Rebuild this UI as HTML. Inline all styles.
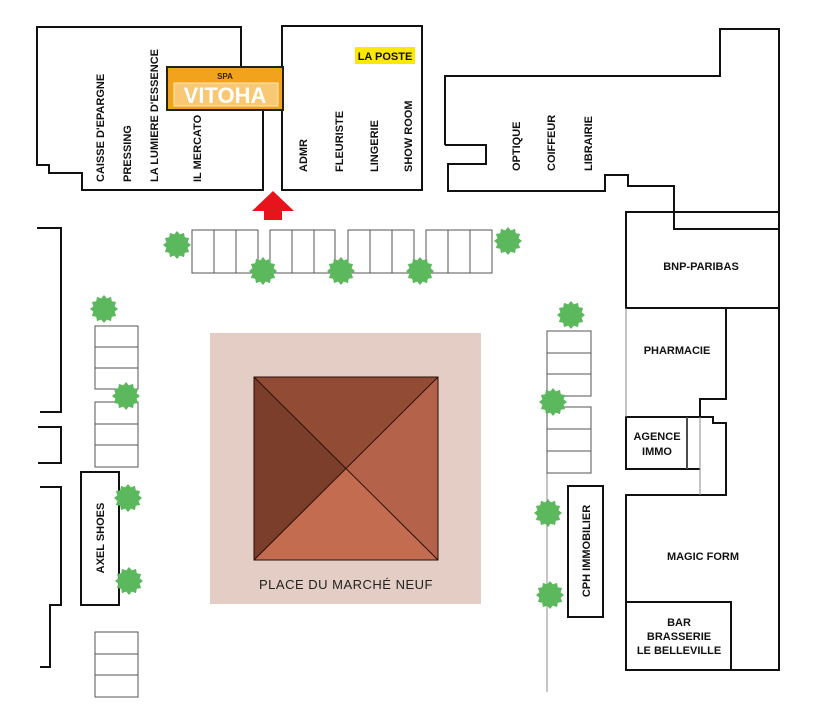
<!DOCTYPE html>
<html><head><meta charset="utf-8"><style>
html,body{margin:0;padding:0;background:#fff;}
svg{display:block;}
.t{font-family:"Liberation Sans Narrow","Liberation Sans",sans-serif;font-weight:bold;font-size:11px;fill:#111;}
</style></head><body>
<svg width="816" height="704" viewBox="0 0 816 704" xmlns="http://www.w3.org/2000/svg">
<defs>
<polygon id="tr" fill="#5cb85c" points="14,0 10.6,2.8 12.1,7 7.8,7.8 7,12.1 2.8,10.6 0,14 -2.8,10.6 -7,12.1 -7.8,7.8 -12.1,7 -10.6,2.8 -14,0 -10.6,-2.8 -12.1,-7 -7.8,-7.8 -7,-12.1 -2.8,-10.6 0,-14 2.8,-10.6 7,-12.1 7.8,-7.8 12.1,-7 10.6,-2.8"/>
</defs>
<g fill="none" stroke="#111" stroke-width="2">
<!-- top-left building -->
<polyline points="241,68 241,27 37,27 37,165 49,165 49,173 82,173 82,190 263,190 263,110"/>
<rect x="282" y="26" width="140" height="164"/>
<!-- top right building -->
<polyline points="445,145 445,76 720,76 720,29 779,29 779,229 674,229 674,186 628,186 628,175 605,175 605,191 448,191 448,164 486,164 486,145 445,145"/>
<rect x="626" y="212" width="153" height="96"/>
<polyline points="726,308 726,399 700,399 700,417"/>
<rect x="626" y="417" width="61" height="52"/>
<polyline points="687,417 700,417 713,417 713,423 726,423 726,495 626,495 626,670 779,670 779,308"/>
<polyline points="687,469 700,469"/>
<rect x="626" y="602" width="105" height="68"/>
<rect x="568" y="486" width="35" height="131"/>
<!-- left brackets -->
<polyline points="37,228 61,228 61,412 40,412"/>
<polyline points="38,427 61,427 61,463 38,463"/>
<polyline points="40,487 61,487 61,605 50,605 50,667 40,667"/>
<rect x="81" y="472" width="38" height="133"/>
</g>
<g fill="none" stroke="#888" stroke-width="1">
<line x1="626" y1="308" x2="626" y2="417"/>
<line x1="700" y1="417" x2="700" y2="495"/>
<line x1="687" y1="417" x2="687" y2="469"/>
<line x1="547" y1="473" x2="547" y2="692"/>
</g>
<g fill="#fff" stroke="#555" stroke-width="1">
<!-- top parking -->
<rect x="192" y="230" width="22" height="43"/><rect x="214" y="230" width="22" height="43"/><rect x="236" y="230" width="22" height="43"/>
<rect x="270" y="230" width="22" height="43"/><rect x="292" y="230" width="22" height="43"/><rect x="314" y="230" width="21" height="43"/>
<rect x="348" y="230" width="22" height="43"/><rect x="370" y="230" width="22" height="43"/><rect x="392" y="230" width="22" height="43"/>
<rect x="426" y="230" width="22" height="43"/><rect x="448" y="230" width="22" height="43"/><rect x="470" y="230" width="22" height="43"/>
<!-- left parking -->
<rect x="95" y="326" width="43" height="21"/><rect x="95" y="347" width="43" height="21"/><rect x="95" y="368" width="43" height="21"/>
<rect x="95" y="402" width="43" height="22"/><rect x="95" y="424" width="43" height="21"/><rect x="95" y="445" width="43" height="22"/>
<rect x="95" y="632" width="43" height="22"/><rect x="95" y="654" width="43" height="21"/><rect x="95" y="675" width="43" height="22"/>
<!-- right parking -->
<rect x="547" y="331" width="44" height="22"/><rect x="547" y="353" width="44" height="21"/><rect x="547" y="374" width="44" height="22"/>
<rect x="547" y="407" width="44" height="22"/><rect x="547" y="429" width="44" height="22"/><rect x="547" y="451" width="44" height="22"/>
</g>
<!-- arrow -->
<polygon fill="#e8141b" points="273,191 294,211 282,211 282,220 264,220 264,211 252,211"/>
<!-- spa -->
<rect x="167" y="67" width="116" height="43" fill="#f2a31d" stroke="#222" stroke-width="2"/>
<rect x="174" y="83" width="104" height="23" fill="#f8c874" stroke="#fde7b8" stroke-width="1"/>
<text x="225" y="79" text-anchor="middle" style="font-family:'Liberation Sans',sans-serif;font-weight:bold;font-size:8px;fill:#3a2200">SPA</text>
<text x="225" y="103" text-anchor="middle" style="font-family:'Liberation Sans',sans-serif;font-weight:bold;font-size:22px;fill:#fff">VITOHA</text>
<!-- la poste -->
<rect x="355" y="47" width="60" height="17" fill="#ffe800"/>
<text class="t" x="385" y="60" text-anchor="middle">LA POSTE</text>
<!-- plaza -->
<rect x="210" y="333" width="271" height="271" fill="#e3cdc4"/>
<polygon points="254,377 438,377 346,468" fill="#924c35"/>
<polygon points="254,377 254,560 346,468" fill="#7a3e2a"/>
<polygon points="438,377 438,560 346,468" fill="#b5624a"/>
<polygon points="254,560 438,560 346,468" fill="#c46c50"/>
<g stroke="#2a1008" stroke-width="1" fill="none">
<rect x="254" y="377" width="184" height="183"/>
<line x1="254" y1="377" x2="438" y2="560"/><line x1="438" y1="377" x2="254" y2="560"/>
</g>
<text x="346" y="589" text-anchor="middle" style="font-family:'Liberation Sans',sans-serif;font-size:13px;fill:#222;letter-spacing:0.5px">PLACE DU MARCHÉ NEUF</text>
<!-- trees -->
<use href="#tr" x="177" y="245"/><use href="#tr" x="263" y="271"/><use href="#tr" x="341" y="271"/><use href="#tr" x="420" y="271"/><use href="#tr" x="508" y="241"/>
<use href="#tr" x="104" y="309"/><use href="#tr" x="126" y="396"/><use href="#tr" x="128" y="498"/><use href="#tr" x="129" y="581"/>
<use href="#tr" x="571" y="315"/><use href="#tr" x="553" y="402"/><use href="#tr" x="548" y="513"/><use href="#tr" x="550" y="595"/>
<!-- vertical labels -->
<g class="t">
<text transform="translate(104,182) rotate(-90)">CAISSE D'EPARGNE</text>
<text transform="translate(131,182) rotate(-90)">PRESSING</text>
<text transform="translate(158,182) rotate(-90)">LA LUMIERE D'ESSENCE</text>
<text transform="translate(201,182) rotate(-90)">IL MERCATO</text>
<text transform="translate(307,172) rotate(-90)">ADMR</text>
<text transform="translate(343,172) rotate(-90)">FLEURISTE</text>
<text transform="translate(378,172) rotate(-90)">LINGERIE</text>
<text transform="translate(412,172) rotate(-90)">SHOW ROOM</text>
<text transform="translate(520,171) rotate(-90)">OPTIQUE</text>
<text transform="translate(555,171) rotate(-90)">COIFFEUR</text>
<text transform="translate(592,171) rotate(-90)">LIBRAIRIE</text>
<text transform="translate(104,538) rotate(-90)" text-anchor="middle">AXEL SHOES</text>
<text transform="translate(590,551) rotate(-90)" text-anchor="middle">CPH IMMOBILIER</text>
</g>
<g class="t" text-anchor="middle">
<text x="701" y="270">BNP-PARIBAS</text>
<text x="677" y="354">PHARMACIE</text>
<text x="657" y="440">AGENCE</text>
<text x="657" y="455">IMMO</text>
<text x="703" y="560">MAGIC FORM</text>
<text x="679" y="626">BAR</text>
<text x="679" y="640">BRASSERIE</text>
<text x="679" y="654">LE BELLEVILLE</text>
</g>
</svg>
</body></html>
